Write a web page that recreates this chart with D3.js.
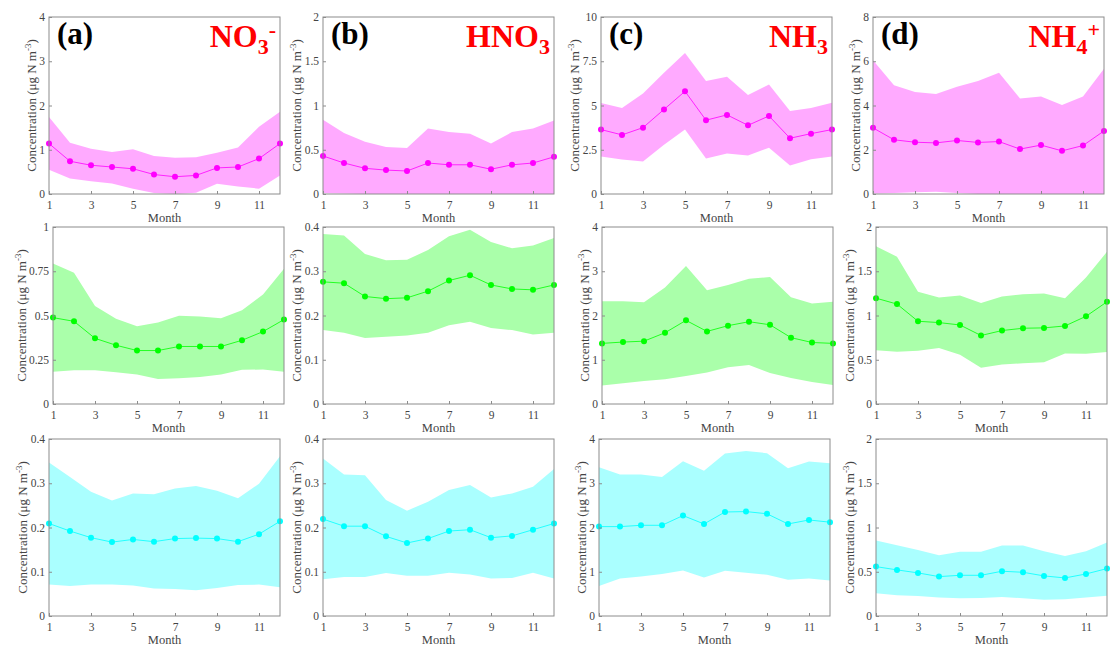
<!DOCTYPE html>
<html>
<head>
<meta charset="utf-8">
<script src="https://cdn.jsdelivr.net/npm/d3@7"></script>
<style>
  body { margin: 0; background: #fff; }
  svg { display: block; }
</style>
</head>
<body>
<svg id="chart" width="1113" height="652"></svg>
<script>
const months = [1, 2, 3, 4, 5, 6, 7, 8, 9, 10, 11, 12];
const monthTicks = [1, 3, 5, 7, 9, 11];

// top row
const no3TopMean = [1.14, 0.74, 0.65, 0.61, 0.57, 0.44, 0.39, 0.42, 0.59, 0.61, 0.80, 1.14];
const no3TopHi   = [1.74, 1.16, 1.02, 0.95, 1.01, 0.86, 0.82, 0.83, 0.93, 1.05, 1.52, 1.86];
const no3TopLo   = [0.55, 0.35, 0.29, 0.24, 0.12, 0.02, 0.00, 0.03, 0.23, 0.17, 0.12, 0.42];

const hno3TopMean = [0.43, 0.35, 0.29, 0.27, 0.26, 0.35, 0.33, 0.33, 0.28, 0.33, 0.35, 0.42];
const hno3TopHi   = [0.84, 0.69, 0.59, 0.53, 0.52, 0.74, 0.70, 0.68, 0.57, 0.70, 0.74, 0.83];
const hno3TopLo   = [0.01, 0.005, 0, 0, 0, 0, 0, 0, 0, 0, 0, 0];

const nh3TopMean = [3.64, 3.34, 3.75, 4.78, 5.80, 4.17, 4.47, 3.88, 4.41, 3.15, 3.41, 3.64];
const nh3TopHi   = [5.14, 4.86, 5.68, 6.85, 7.97, 6.38, 6.62, 5.59, 6.19, 4.69, 4.86, 5.16];
const nh3TopLo   = [2.12, 1.95, 1.84, 2.78, 3.64, 2.00, 2.29, 2.18, 2.61, 1.61, 1.97, 2.12];

const nh4TopMean = [2.99, 2.45, 2.34, 2.31, 2.42, 2.33, 2.37, 2.03, 2.21, 1.95, 2.19, 2.85];
const nh4TopHi   = [6.05, 4.91, 4.61, 4.52, 4.85, 5.11, 5.48, 4.32, 4.41, 4.02, 4.41, 5.66];
const nh4TopLo   = [0.02, 0.05, 0.08, 0.10, 0.05, 0, 0, 0, 0, 0, 0, 0];

// middle row
const no3MidMean = [0.488, 0.467, 0.371, 0.332, 0.302, 0.302, 0.325, 0.325, 0.325, 0.360, 0.409, 0.477];
const no3MidHi   = [0.794, 0.741, 0.553, 0.482, 0.439, 0.460, 0.499, 0.495, 0.484, 0.529, 0.619, 0.764];
const no3MidLo   = [0.182, 0.191, 0.190, 0.180, 0.167, 0.141, 0.146, 0.152, 0.167, 0.193, 0.195, 0.182];

const hno3MidMean = [0.276, 0.273, 0.243, 0.238, 0.240, 0.255, 0.279, 0.291, 0.269, 0.260, 0.258, 0.269];
const hno3MidHi   = [0.384, 0.381, 0.339, 0.325, 0.326, 0.348, 0.379, 0.394, 0.366, 0.352, 0.358, 0.375];
const hno3MidLo   = [0.167, 0.161, 0.149, 0.152, 0.155, 0.161, 0.178, 0.186, 0.172, 0.167, 0.157, 0.161];

const nh3MidMean = [1.37, 1.40, 1.42, 1.61, 1.89, 1.64, 1.77, 1.86, 1.79, 1.50, 1.39, 1.37];
const nh3MidHi   = [2.32, 2.32, 2.30, 2.63, 3.12, 2.57, 2.69, 2.83, 2.87, 2.41, 2.27, 2.31];
const nh3MidLo   = [0.42, 0.47, 0.52, 0.56, 0.63, 0.71, 0.83, 0.88, 0.70, 0.59, 0.50, 0.43];

const nh4MidMean = [1.196, 1.129, 0.935, 0.920, 0.893, 0.774, 0.830, 0.856, 0.860, 0.882, 0.991, 1.155];
const nh4MidHi   = [1.783, 1.664, 1.267, 1.204, 1.226, 1.140, 1.215, 1.241, 1.249, 1.196, 1.428, 1.720];
const nh4MidLo   = [0.606, 0.591, 0.602, 0.632, 0.557, 0.411, 0.445, 0.460, 0.471, 0.572, 0.568, 0.587];

// bottom row
const no3BotMean = [0.209, 0.192, 0.177, 0.167, 0.173, 0.168, 0.175, 0.176, 0.175, 0.168, 0.185, 0.214];
const no3BotHi   = [0.347, 0.314, 0.281, 0.261, 0.277, 0.275, 0.288, 0.294, 0.283, 0.266, 0.299, 0.361];
const no3BotLo   = [0.071, 0.068, 0.071, 0.071, 0.069, 0.062, 0.061, 0.058, 0.063, 0.070, 0.071, 0.065];

const hno3BotMean = [0.219, 0.203, 0.203, 0.180, 0.165, 0.175, 0.192, 0.195, 0.177, 0.181, 0.195, 0.209];
const hno3BotHi   = [0.356, 0.320, 0.318, 0.262, 0.238, 0.258, 0.285, 0.296, 0.268, 0.277, 0.292, 0.332];
const hno3BotLo   = [0.083, 0.088, 0.088, 0.097, 0.091, 0.091, 0.098, 0.094, 0.085, 0.086, 0.098, 0.085];

const nh3BotMean = [2.02, 2.02, 2.05, 2.05, 2.27, 2.08, 2.35, 2.36, 2.31, 2.08, 2.17, 2.12];
const nh3BotHi   = [3.36, 3.20, 3.20, 3.14, 3.50, 3.28, 3.67, 3.73, 3.68, 3.34, 3.49, 3.45];
const nh3BotLo   = [0.68, 0.85, 0.89, 0.95, 1.03, 0.87, 1.02, 0.98, 0.93, 0.82, 0.85, 0.80];

const nh4BotMean = [0.558, 0.521, 0.487, 0.445, 0.460, 0.460, 0.506, 0.494, 0.453, 0.430, 0.475, 0.536];
const nh4BotHi   = [0.853, 0.800, 0.747, 0.687, 0.725, 0.725, 0.796, 0.796, 0.732, 0.679, 0.732, 0.830];
const nh4BotLo   = [0.257, 0.234, 0.226, 0.208, 0.200, 0.204, 0.215, 0.200, 0.185, 0.189, 0.208, 0.230];

// y tick labels per panel, row by row
const yTicksTop = [[0, 1, 2, 3, 4], [0, 0.5, 1, 1.5, 2], [0, 2.5, 5, 7.5, 10], [0, 2, 4, 6, 8]];
const yTicksMid = [[0, 0.25, 0.5, 0.75, 1], [0, 0.1, 0.2, 0.3, 0.4], [0, 1, 2, 3, 4], [0, 0.5, 1, 1.5, 2]];
const yTicksBot = [[0, 0.1, 0.2, 0.3, 0.4], [0, 0.1, 0.2, 0.3, 0.4], [0, 1, 2, 3, 4], [0, 0.5, 1, 1.5, 2]];

const panelLetters = ["(a)", "(b)", "(c)", "(d)"];
// species name pieces: [text, "", "sub" or "sup"]
const speciesLabels = [
    [["NO", ""], ["3", "sub"], ["-", "sup"]],
    [["HNO", ""], ["3", "sub"]],
    [["NH", ""], ["3", "sub"]],
    [["NH", ""], ["4", "sub"], ["+", "sup"]]
];

const lineColors = ["#ff00ff", "#00ff00", "#00ffff"];
const bandColors = ["#ffaaff", "#aaffaa", "#aaffff"];

const rows = [
    [[no3TopMean, no3TopLo, no3TopHi], [hno3TopMean, hno3TopLo, hno3TopHi], [nh3TopMean, nh3TopLo, nh3TopHi], [nh4TopMean, nh4TopLo, nh4TopHi]],
    [[no3MidMean, no3MidLo, no3MidHi], [hno3MidMean, hno3MidLo, hno3MidHi], [nh3MidMean, nh3MidLo, nh3MidHi], [nh4MidMean, nh4MidLo, nh4MidHi]],
    [[no3BotMean, no3BotLo, no3BotHi], [hno3BotMean, hno3BotLo, hno3BotHi], [nh3BotMean, nh3BotLo, nh3BotHi], [nh4BotMean, nh4BotLo, nh4BotHi]]
];
const rowTicks = [yTicksTop, yTicksMid, yTicksBot];

// layout
const FONT = '"Liberation Serif", "Times New Roman", serif';
const colLeft = [[49, 323, 601, 873], [53, 323, 602, 876], [49, 323, 599, 876]];
const rowTop = [17, 227, 439];
const W = 231, H = 177;
const AXIS_GRAY = "#8c8c8c";
const TEXT_GRAY = "#444";

const svg = d3.select("#chart");
svg.append("rect").attr("width", 1113).attr("height", 652).attr("fill", "#fff");

rows.forEach((row, r) => {
    row.forEach((series, c) => {
        const [mean, lo, hi] = series;
        const ticks = rowTicks[r][c];
        const left = colLeft[r][c];
        const top = rowTop[r];

        const x = d3.scaleLinear().domain([1, 12]).range([left, left + W]);
        const y = d3.scaleLinear().domain([0, ticks[ticks.length - 1]]).range([top + H, top]);

        const g = svg.append("g");

        // spread band
        const band = d3.area()
            .x((d, i) => x(months[i]))
            .y0((d, i) => y(lo[i]))
            .y1((d, i) => y(hi[i]));
        g.append("path")
            .datum(mean)
            .attr("d", band)
            .attr("fill", bandColors[r]);

        // mean line + markers
        const line = d3.line()
            .x((d, i) => x(months[i]))
            .y(d => y(d));
        g.append("path")
            .datum(mean)
            .attr("d", line)
            .attr("fill", "none")
            .attr("stroke", lineColors[r])
            .attr("stroke-width", 0.8);
        g.selectAll("circle")
            .data(mean)
            .enter().append("circle")
            .attr("cx", (d, i) => x(months[i]))
            .attr("cy", d => y(d))
            .attr("r", 3)
            .attr("fill", lineColors[r]);

        // X axis
        const xAxis = g.append("g")
            .attr("transform", `translate(0,${top + H})`)
            .call(d3.axisBottom(x).tickValues(monthTicks).tickSize(-3).tickPadding(6.5));
        // Y axis
        const yAxis = g.append("g")
            .attr("transform", `translate(${left},0)`)
            .call(d3.axisLeft(y).tickValues(ticks).tickFormat(d => String(d)).tickSize(-3).tickPadding(4));

        [xAxis, yAxis].forEach(ax => {
            ax.attr("font-family", FONT).attr("font-size", 11.5);
            ax.select(".domain").remove();
            ax.selectAll(".tick line").attr("stroke", AXIS_GRAY);
            ax.selectAll(".tick text").attr("fill", TEXT_GRAY);
        });

        // box
        g.append("rect")
            .attr("x", left)
            .attr("y", top)
            .attr("width", W)
            .attr("height", H)
            .attr("fill", "none")
            .attr("stroke", AXIS_GRAY)
            .attr("stroke-width", 1);

        // axis labels
        g.append("text")
            .attr("x", left + W / 2)
            .attr("y", top + H + 28)
            .attr("text-anchor", "middle")
            .attr("font-family", FONT)
            .attr("font-size", 12.5)
            .attr("fill", TEXT_GRAY)
            .text("Month");

        let maxTickW = 0;
        yAxis.selectAll(".tick text").each(function () {
            maxTickW = Math.max(maxTickW, this.getBBox().width);
        });
        const yl = g.append("text")
            .attr("transform", `translate(${left - 4 - maxTickW - 3},${top + H / 2}) rotate(-90)`)
            .attr("text-anchor", "middle")
            .attr("font-family", FONT)
            .attr("font-size", 13)
            .attr("fill", TEXT_GRAY);
        yl.append("tspan").text("Concentration (\u03bcg N m");
        yl.append("tspan").attr("font-size", 9).attr("dy", -5).text("-3");
        yl.append("tspan").attr("dy", 5).text(")");

        if (r === 0) {
            g.append("text")
                .attr("x", left + 8)
                .attr("y", top + 27)
                .attr("font-family", FONT)
                .attr("font-size", 31)
                .attr("font-weight", "bold")
                .attr("fill", "#000")
                .text(panelLetters[c]);

            const sp = g.append("text")
                .attr("x", left + W - 4)
                .attr("y", top + 30)
                .attr("text-anchor", "end")
                .attr("font-family", FONT)
                .attr("font-size", 32)
                .attr("font-weight", "bold")
                .attr("fill", "#ff0000");
            let shift = 0;
            speciesLabels[c].forEach(([txt, kind]) => {
                const t = sp.append("tspan").text(txt);
                if (kind === "sub") {
                    t.attr("font-size", 22).attr("dy", 7 - shift);
                    shift = 7;
                } else if (kind === "sup") {
                    t.attr("font-size", 22).attr("dy", -10 - shift);
                    shift = -10;
                }
            });
        }
    });
});
</script>
</body>
</html>
